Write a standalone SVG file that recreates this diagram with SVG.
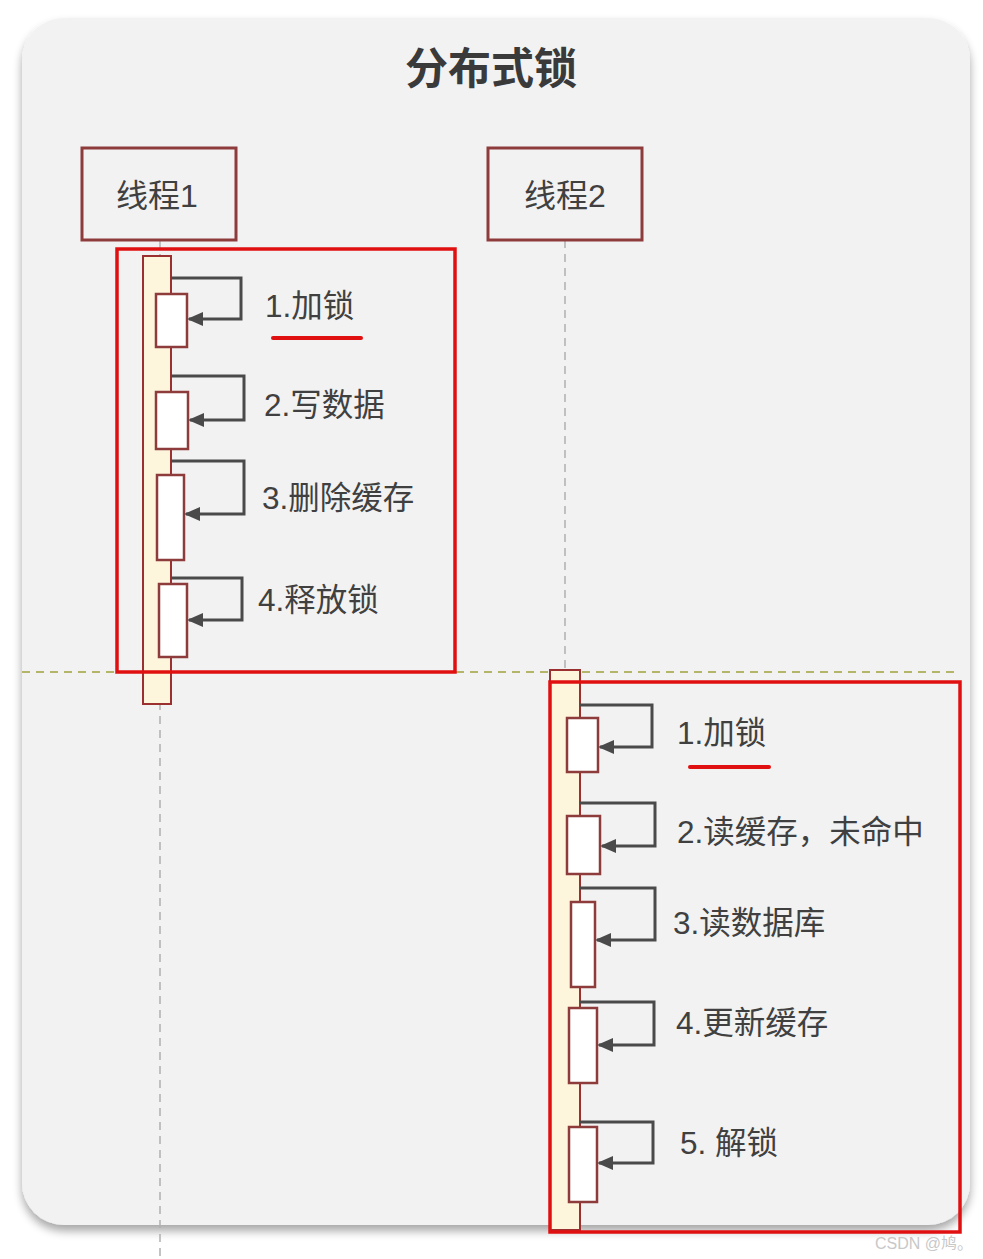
<svg xmlns="http://www.w3.org/2000/svg" width="983" height="1259" viewBox="0 0 983 1259">
<defs>
<filter id="sh" x="-5%" y="-5%" width="110%" height="110%"><feGaussianBlur in="SourceAlpha" stdDeviation="5"/><feOffset dy="6"/><feComponentTransfer><feFuncA type="linear" slope="0.35"/></feComponentTransfer><feMerge><feMergeNode/><feMergeNode in="SourceGraphic"/></feMerge></filter>
<marker id="ah" markerWidth="18" markerHeight="16" refX="15" refY="8" orient="auto" markerUnits="userSpaceOnUse"><path d="M1,1 L17,8 L1,15 Z" fill="#4a4a4a"/></marker>
</defs>
<style>
text{font-family:"Liberation Sans","Noto Sans CJK SC",sans-serif;fill:#404040}
.lbl{font-size:31.5px}
.actor{fill:#f2f2f2;stroke:#8e3b3b;stroke-width:3}
.life{stroke:#b0b0b0;stroke-width:1.5;stroke-dasharray:8,6;fill:none}
.bar{fill:#fdf6dc;stroke:#9b3030;stroke-width:2}
.act{fill:#ffffff;stroke:#8e3b3b;stroke-width:2.5}
.msg{fill:none;stroke:#4a4a4a;stroke-width:3;marker-end:url(#ah)}
.frame{fill:none;stroke:#e01010;stroke-width:3.5}
.ul{stroke:#e01010;stroke-width:4;stroke-linecap:round}
</style>
<rect x="0" y="0" width="983" height="1259" fill="#ffffff"/>
<rect id="panel" x="22" y="18" width="948" height="1207" rx="42" fill="#f2f2f2" filter="url(#sh)"/>
<text x="491" y="84" text-anchor="middle" font-size="43" font-weight="bold" style="fill:#3a3a3a">分布式锁</text>

<g id="lifelines">
<line class="life" x1="160" y1="240" x2="160" y2="1259"/>
<line class="life" x1="565" y1="240" x2="565" y2="670"/>
</g>
<line id="divider" x1="22" y1="672" x2="955" y2="672" stroke="#b5b56a" stroke-width="2" stroke-dasharray="8,6"/>

<g id="thread1"><rect class="actor" x="82" y="148" width="154" height="92"/><text x="157" y="207" text-anchor="middle" font-size="32">线程1</text></g>
<g id="thread2"><rect class="actor" x="488" y="148" width="154" height="92"/><text x="565" y="207" text-anchor="middle" font-size="32">线程2</text></g>

<g id="bar1"><rect class="bar" x="143" y="256" width="28" height="448"/></g>
<g id="bar2"><rect class="bar" x="550" y="670" width="30" height="560"/></g>

<g id="acts1">
<rect class="act" x="156" y="294" width="31" height="53"/>
<rect class="act" x="156" y="392" width="32" height="57"/>
<rect class="act" x="157" y="475" width="27" height="85"/>
<rect class="act" x="159" y="584" width="28" height="73"/>
</g>
<g id="acts2">
<rect class="act" x="567" y="718" width="31" height="54"/>
<rect class="act" x="567" y="816" width="33" height="58"/>
<rect class="act" x="571" y="902" width="24" height="85"/>
<rect class="act" x="569" y="1008" width="28" height="75"/>
<rect class="act" x="569" y="1127" width="28" height="75"/>
</g>

<g id="connectors">
<path class="msg" d="M171,278 H241 V319 H189"/>
<path class="msg" d="M171,376 H244 V420 H190"/>
<path class="msg" d="M171,461 H244 V514 H186"/>
<path class="msg" d="M171,578 H242 V620 H189"/>
<path class="msg" d="M580,705 H652 V747 H600"/>
<path class="msg" d="M580,803 H655 V846 H602"/>
<path class="msg" d="M580,888 H655 V940 H597"/>
<path class="msg" d="M580,1002 H654 V1045 H599"/>
<path class="msg" d="M580,1122 H653 V1163 H599"/>
</g>

<g id="labels1">
<text class="lbl" x="265" y="317">1.加锁</text>
<line class="ul" x1="273" y1="338" x2="361" y2="338"/>
<text class="lbl" x="264" y="416">2.写数据</text>
<text class="lbl" x="262" y="509">3.删除缓存</text>
<text class="lbl" x="258" y="611">4.释放锁</text>
</g>
<g id="labels2">
<text class="lbl" x="677" y="744">1.加锁</text>
<line class="ul" x1="690" y1="767" x2="769" y2="767"/>
<text class="lbl" x="677" y="843">2.读缓存，未命中</text>
<text class="lbl" x="673" y="934">3.读数据库</text>
<text class="lbl" x="676" y="1034">4.更新缓存</text>
<text class="lbl" x="680" y="1154">5. 解锁</text>
</g>

<g id="frames">
<rect class="frame" x="117" y="249" width="338" height="423"/>
<rect class="frame" x="550" y="682" width="410" height="550"/>
</g>

<text x="973" y="1249" text-anchor="end" font-size="16" style="fill:#c8c8c8">CSDN @鸠。</text>
</svg>
